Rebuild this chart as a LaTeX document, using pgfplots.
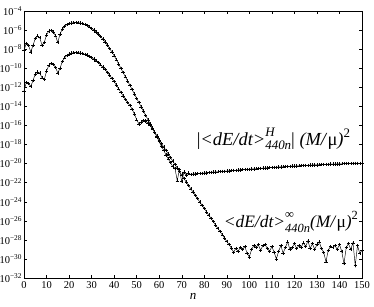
\documentclass[border=0pt]{standalone}
\usepackage{pgfplots}
\pgfplotsset{compat=1.18}
\usepackage{pgfplotstable}
\usepackage{amsmath}
\usepackage{fontspec}
\setmainfont{Liberation Serif}

% log10 of the fluxes
\pgfplotstableread{
n y
0 -8.1
1 -7.4
2 -7.6
3 -8.3
4 -7.6
5 -6.9
6 -6.6
7 -6.8
8 -7.6
9 -7.3
10 -6.5
11 -6.1
12 -6.05
13 -6.2
14 -6.6
15 -7.3
16 -6.4
17 -5.9
18 -5.6
19 -5.42
20 -5.32
21 -5.26
22 -5.23
23 -5.22
24 -5.23
25 -5.27
26 -5.33
27 -5.41
28 -5.52
29 -5.65
30 -5.81
31 -5.99
32 -6.19
33 -6.42
34 -6.67
35 -6.95
36 -7.25
37 -7.57
38 -7.92
39 -8.29
40 -8.69
41 -9.11
42 -9.55
43 -10.0
44 -10.45
45 -10.9
46 -11.35
47 -11.8
48 -12.25
49 -12.7
50 -13.15
51 -13.6
52 -14.05
53 -14.5
54 -14.95
55 -15.4
56 -15.83
57 -16.25
58 -16.67
59 -17.09
60 -17.5
61 -17.88
62 -18.25
63 -18.62
64 -18.99
65 -19.36
66 -19.73
67 -20.1
68 -20.47
69 -20.84
70 -21.21
71 -21.58
72 -21.95
73 -22.3
74 -22.64
75 -22.99
76 -23.33
77 -23.68
78 -24.02
79 -24.37
80 -24.71
81 -25.06
82 -25.4
83 -25.75
84 -26.09
85 -26.44
86 -26.78
87 -27.13
88 -27.47
89 -27.82
90 -28.16
91 -28.5
92 -28.85
93 -29.3
94 -28.9
95 -29.2
96 -28.8
97 -29.0
98 -28.7
99 -29.4
100 -29.8
101 -29.0
102 -28.6
103 -28.8
104 -28.5
105 -29.1
106 -28.6
107 -28.5
108 -28.9
109 -29.2
110 -28.7
111 -29.3
112 -30.0
113 -29.2
114 -28.6
115 -29.4
116 -28.8
117 -28.2
118 -29.0
119 -28.8
120 -28.4
121 -28.9
122 -28.6
123 -28.8
124 -28.3
125 -28.7
126 -28.1
127 -28.9
128 -28.4
129 -29.0
130 -28.5
131 -28.2
132 -28.9
133 -29.3
134 -30.3
135 -29.1
136 -28.7
137 -28.8
138 -28.6
139 -29.0
140 -28.5
141 -29.2
142 -30.5
143 -28.8
144 -28.4
145 -29.0
146 -28.3
147 -30.7
148 -28.6
149 -29.4
150 -29.1
}\fluxinf

\pgfplotstableread{
n y
0 -12.4
1 -11.5
2 -11.6
3 -11.9
4 -11.3
5 -10.6
6 -10.4
7 -10.5
8 -11.0
9 -11.2
10 -10.3
11 -9.7
12 -9.5
13 -9.6
14 -9.9
15 -10.5
16 -10.0
17 -9.3
18 -8.9
19 -8.65
20 -8.5
21 -8.42
22 -8.38
23 -8.37
24 -8.38
25 -8.41
26 -8.46
27 -8.54
28 -8.63
29 -8.75
30 -8.88
31 -9.04
32 -9.22
33 -9.42
34 -9.64
35 -9.88
36 -10.14
37 -10.43
38 -10.73
39 -11.06
40 -11.40
41 -11.77
42 -12.15
43 -12.53
44 -12.9
45 -13.25
46 -13.58
47 -13.9
48 -14.3
49 -14.8
50 -15.4
51 -15.85
52 -15.65
53 -15.5
54 -15.55
55 -15.75
56 -16.0
57 -16.35
58 -16.75
59 -17.2
60 -17.7
61 -18.2
62 -18.6
63 -19.1
64 -19.5
65 -19.9
66 -20.3
67 -20.5
68 -21.8
69 -20.6
70 -21.9
71 -20.9
72 -21.2
73 -21.0
74 -21.15
75 -21.10
76 -21.08
77 -21.06
78 -21.04
79 -21.01
80 -20.99
81 -20.97
82 -20.95
83 -20.92
84 -20.90
85 -20.88
86 -20.86
87 -20.84
88 -20.82
89 -20.80
90 -20.78
91 -20.76
92 -20.74
93 -20.72
94 -20.70
95 -20.68
96 -20.66
97 -20.64
98 -20.63
99 -20.61
100 -20.59
101 -20.57
102 -20.55
103 -20.54
104 -20.52
105 -20.50
106 -20.48
107 -20.46
108 -20.45
109 -20.43
110 -20.41
111 -20.39
112 -20.38
113 -20.36
114 -20.35
115 -20.33
116 -20.32
117 -20.30
118 -20.29
119 -20.27
120 -20.26
121 -20.25
122 -20.23
123 -20.22
124 -20.20
125 -20.19
126 -20.18
127 -20.17
128 -20.15
129 -20.14
130 -20.13
131 -20.12
132 -20.11
133 -20.10
134 -20.09
135 -20.07
136 -20.06
137 -20.06
138 -20.05
139 -20.04
140 -20.03
141 -20.02
142 -20.01
143 -20.00
144 -20.00
145 -19.99
146 -19.99
147 -19.98
148 -19.98
149 -19.97
150 -19.97
}\fluxhor

\begin{document}
\begin{tikzpicture}
\path[use as bounding box] (-24bp,-29bp) rectangle (350bp,278bp);
\begin{axis}[
  at={(0,0)}, anchor=south west,
  scale only axis, width=338bp, height=267bp,
  xmin=0, xmax=150, ymin=-32, ymax=-4,
  xtick={0,10,...,150},
  ytick={-32,-30,...,-4},
  yticklabels={10\textsuperscript{−32},10\textsuperscript{−30},10\textsuperscript{−28},10\textsuperscript{−26},10\textsuperscript{−24},10\textsuperscript{−22},10\textsuperscript{−20},10\textsuperscript{−18},10\textsuperscript{−16},10\textsuperscript{−14},10\textsuperscript{−12},10\textsuperscript{−10},10\textsuperscript{−8},10\textsuperscript{−6},10\textsuperscript{−4}},
  /pgf/number format/assume math mode=true,
  tick align=inside,
  major tick length=3bp,
  tick style={black, line width=0.4pt},
  axis line style={line width=0.6pt},
  tick label style={font=\fontsize{10.5}{11}\selectfont},
  yticklabel style={xshift=1.5bp},
  xlabel={\textit{n}},
  xlabel style={font=\fontsize{13}{13}\selectfont, yshift=2bp},
]
\addplot[black, line width=0.45pt, mark=+, mark size=1.7pt, mark options={line width=0.4pt}] table[x=n,y=y] {\fluxinf};
\addplot[black, line width=0.45pt, mark=+, mark size=1.7pt, mark options={line width=0.4pt}] table[x=n,y=y] {\fluxhor};
\node[anchor=base west, inner sep=0pt, font=\fontsize{18.5}{18.5}\selectfont] at (axis cs:76.6,-18.1)
  {|\textit{<dE/dt>}\rlap{\raisebox{9bp}{\fontsize{13}{13}\selectfont\textit{H}}}\raisebox{-4.5bp}{\fontsize{13}{13}\selectfont\textit{440n}}|\ \textit{(M/}μ\textit{)}\raisebox{8bp}{\fontsize{13}{13}\selectfont 2}};
\node[anchor=base west, inner sep=0pt, font=\fontsize{17.5}{17.5}\selectfont] at (axis cs:88.6,-26.75)
  {\textit{<dE/dt>}\rlap{\raisebox{9bp}{\fontsize{12.5}{12.5}\selectfont ∞}}\raisebox{-4.5bp}{\fontsize{12.5}{12.5}\selectfont\textit{440n}}\textit{(M/}μ\textit{)}\raisebox{8bp}{\fontsize{12.5}{12.5}\selectfont 2}};
\end{axis}
\end{tikzpicture}
\end{document}
